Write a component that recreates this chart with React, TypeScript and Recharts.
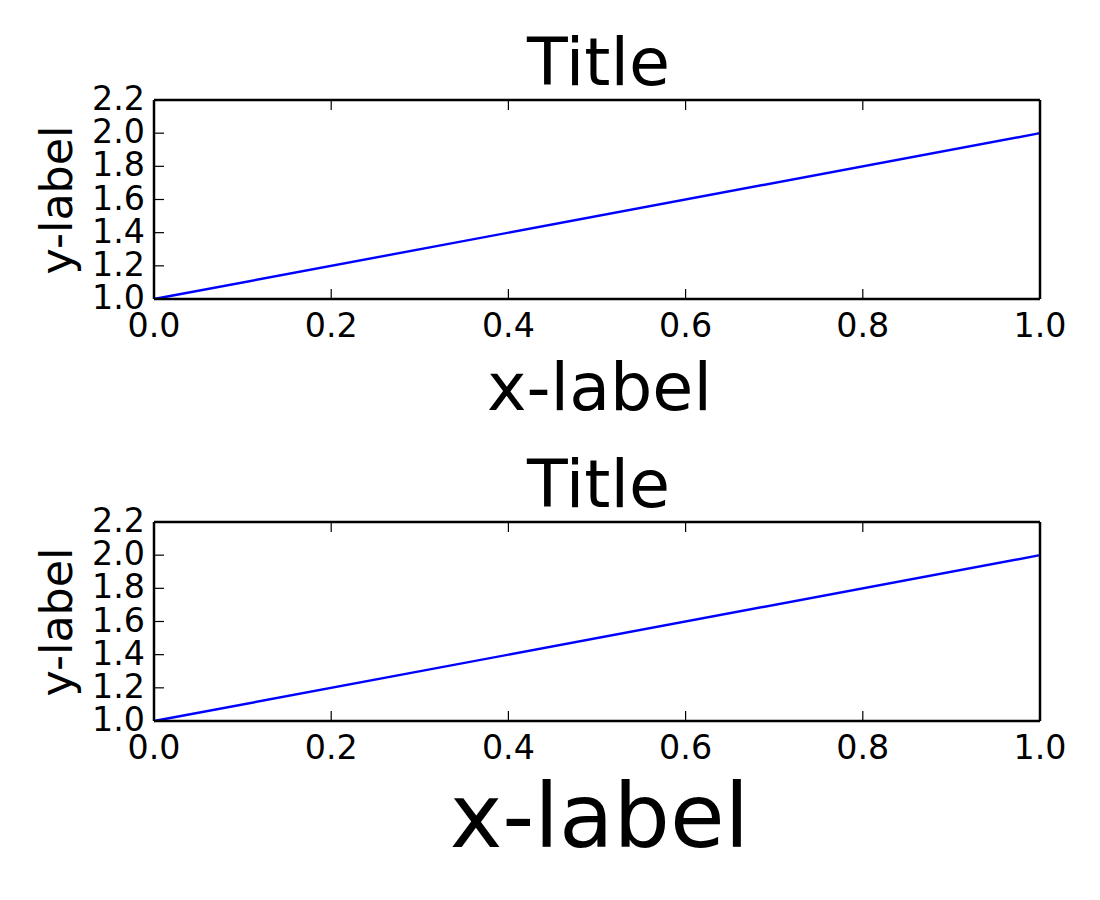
import React from 'react';
import { LineChart, Line, XAxis, YAxis, Customized } from 'recharts';

const xValues = [0, 1];
const yValues = [1, 2];
const xTicks = [0, 0.2, 0.4, 0.6, 0.8, 1.0];
const yTicks = [1.0, 1.2, 1.4, 1.6, 1.8, 2.0, 2.2];
const titleText = 'Title';
const xLabelText = 'x-label';
const yLabelText = 'y-label';

const data = xValues.map((x, i) => ({ x, y: yValues[i] }));

const FONT = '"DejaVu Sans", sans-serif';
const TICK_LEN = 10;
const TICK_FS = 33.3;
const AX = 40;
const FRAME = { stroke: '#000', strokeWidth: 2.5 };

const LeftTick = (props: any) => {
  const { x, y, payload } = props;
  return (
    <g>
      <line x1={x} y1={y} x2={x + TICK_LEN} y2={y} stroke="#000" strokeWidth={1.2} />
      <text x={x - 9} y={y + 10} textAnchor="end" fontSize={TICK_FS} fontFamily={FONT} fill="#000">
        {Number(payload.value).toFixed(1)}
      </text>
    </g>
  );
};

const RightTick = (props: any) => {
  const { x, y } = props;
  return <line x1={x} y1={y} x2={x - TICK_LEN} y2={y} stroke="#000" strokeWidth={1.2} />;
};

const BottomTick = (props: any) => {
  const { x, y, payload } = props;
  return (
    <g>
      <line x1={x} y1={y} x2={x} y2={y - TICK_LEN} stroke="#000" strokeWidth={1.2} />
      <text x={x} y={y + 38} textAnchor="middle" fontSize={TICK_FS} fontFamily={FONT} fill="#000">
        {Number(payload.value).toFixed(1)}
      </text>
    </g>
  );
};

const TopTick = (props: any) => {
  const { x, y } = props;
  return <line x1={x} y1={y} x2={x} y2={y + TICK_LEN} stroke="#000" strokeWidth={1.2} />;
};

type PanelProps = { height: number; xLabelSize: number; xLabelBaseline: number };

const Panel = ({ height, xLabelSize, xLabelBaseline }: PanelProps) => {
  const Texts = () => (
    <g>
      <text x={598.5} y={85} textAnchor="middle" fontSize={66.7} fontFamily={FONT} fill="#000">
        {titleText}
      </text>
      <text x={599.5} y={xLabelBaseline} textAnchor="middle" fontSize={xLabelSize} fontFamily={FONT} fill="#000">
        {xLabelText}
      </text>
      <text
        x={72}
        y={200}
        transform="rotate(-90, 72, 200)"
        textAnchor="middle"
        fontSize={44.4}
        fontFamily={FONT}
        fill="#000"
      >
        {yLabelText}
      </text>
    </g>
  );
  return (
    <LineChart
      width={1100}
      height={height}
      data={data}
      margin={{ top: 100 - AX, right: 60 - AX, bottom: height - 299 - AX, left: 154 - AX }}
    >
      <XAxis
        dataKey="x"
        type="number"
        domain={[0, 1]}
        ticks={xTicks}
        height={AX}
        tickSize={0}
        tickMargin={0}
        tickLine={false}
        axisLine={FRAME}
        tick={<BottomTick />}
        interval={0}
      />
      <XAxis
        xAxisId="top"
        orientation="top"
        dataKey="x"
        type="number"
        domain={[0, 1]}
        ticks={xTicks}
        height={AX}
        tickSize={0}
        tickMargin={0}
        tickLine={false}
        axisLine={FRAME}
        tick={<TopTick />}
        interval={0}
      />
      <YAxis
        type="number"
        domain={[1, 2.2]}
        ticks={yTicks}
        width={AX}
        tickSize={0}
        tickMargin={0}
        tickLine={false}
        axisLine={FRAME}
        tick={<LeftTick />}
        interval={0}
      />
      <YAxis
        yAxisId="right"
        orientation="right"
        type="number"
        domain={[1, 2.2]}
        ticks={yTicks}
        width={AX}
        tickSize={0}
        tickMargin={0}
        tickLine={false}
        axisLine={FRAME}
        tick={<RightTick />}
        interval={0}
      />
      <Line
        dataKey="y"
        stroke="#0000ff"
        strokeWidth={2.4}
        dot={false}
        activeDot={false}
        isAnimationActive={false}
      />
      <Customized component={Texts} />
    </LineChart>
  );
};

export default function App() {
  return (
    <div style={{ position: 'absolute', left: 0, top: 0, width: 1100, height: 900, background: '#fff' }}>
      <div style={{ position: 'absolute', left: 0, top: 0 }}>
        <Panel height={450} xLabelSize={66.7} xLabelBaseline={410} />
      </div>
      <div style={{ position: 'absolute', left: 0, top: 422 }}>
        <Panel height={478} xLabelSize={88.9} xLabelBaseline={425} />
      </div>
    </div>
  );
}
